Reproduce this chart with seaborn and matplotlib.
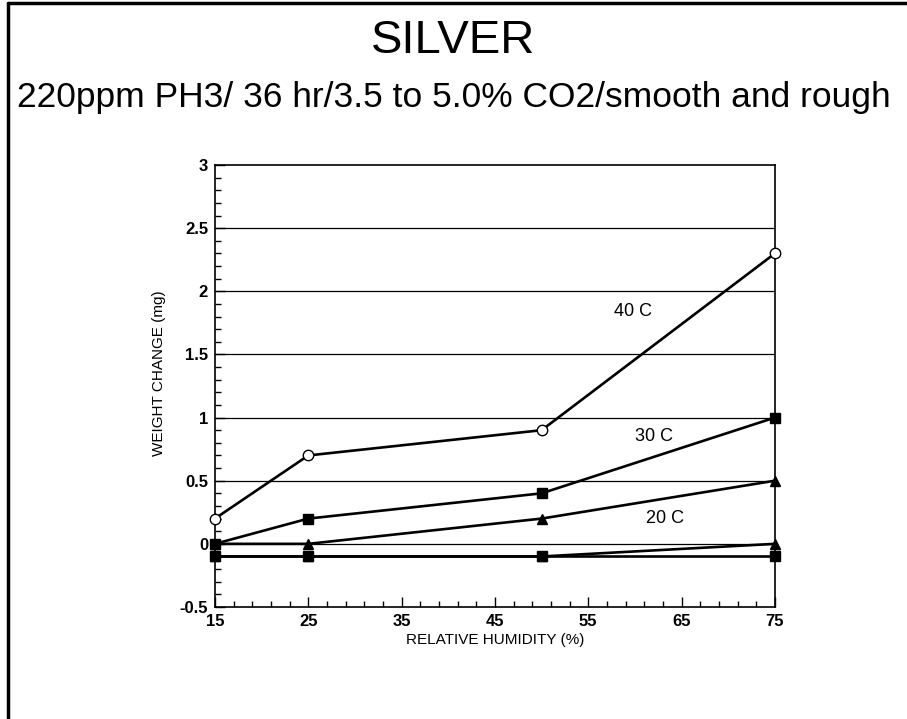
import matplotlib
matplotlib.use("Agg")
import matplotlib.pyplot as plt
import seaborn as sns
import pandas as pd
import numpy as np
from matplotlib.lines import Line2D

humidity = [15, 25, 50, 75]
c40 = [0.2, 0.7, 0.9, 2.3]
c30 = [0.0, 0.2, 0.4, 1.0]
c20 = [0.0, 0.0, 0.2, 0.5]
ctrl_tri = [-0.1, -0.1, -0.1, 0.0]
ctrl_sq = [-0.1, -0.1, -0.1, -0.1]

series_names = ["40 C", "30 C", "20 C", "ctrl_tri", "ctrl_sq"]
series_vals = [c40, c30, c20, ctrl_tri, ctrl_sq]
label_text = ["40 C", "30 C", "20 C"]
label_x = [59.8, 62.0, 63.2]
label_y = [1.84, 0.85, 0.20]
x_ticks = [15, 25, 35, 45, 55, 65, 75]
y_ticks = [-0.5, 0, 0.5, 1, 1.5, 2, 2.5, 3]
y_tick_labels = ["-0.5", "0", "0.5", "1", "1.5", "2", "2.5", "3"]

rows = []
for n, vals in zip(series_names, series_vals):
    for h, v in zip(humidity, vals):
        rows.append({"series": n, "rh": h, "wc": v})
df = pd.DataFrame(rows)

sns.set_style("white")
plt.rcParams['font.family'] = ['Liberation Sans', 'DejaVu Sans']
for k in ["text.color", "axes.labelcolor", "xtick.color", "ytick.color"]:
    plt.rcParams[k] = "black"

fig = plt.figure(figsize=(9.07, 7.19), dpi=100)
ax = fig.add_axes([0.2370, 0.1558, 0.6174, 0.6147])

styles = {
    "40 C": dict(marker="o", mfc="white", ms=7.5),
    "30 C": dict(marker="s", mfc="black", ms=6.5),
    "20 C": dict(marker="^", mfc="black", ms=6.5),
    "ctrl_tri": dict(marker="^", mfc="black", ms=6.5),
    "ctrl_sq": dict(marker="s", mfc="black", ms=6.5),
}

for yv in y_ticks[1:-1]:
    ax.axhline(yv, color="black", lw=0.9, zorder=1)

for n in series_names:
    sub = df[df.series == n]
    st = styles[n]
    sns.lineplot(data=sub, x="rh", y="wc", ax=ax, color="black", lw=1.9,
                 marker=st["marker"], markerfacecolor=st["mfc"],
                 markeredgecolor="black", markersize=st["ms"],
                 markeredgewidth=1.0, legend=False, zorder=3, clip_on=False)

for t, x, y in zip(label_text, label_x, label_y):
    ax.text(x, y, t, fontsize=13, ha="center", va="center", zorder=4)

ax.set_xlim(15, 75)
ax.set_ylim(-0.5, 3)
ax.set_xticks(x_ticks)
ax.set_xticks(np.arange(15, 76, 2), minor=True)
ax.set_yticks(y_ticks)
ax.set_yticklabels(y_tick_labels)
ax.set_yticks(np.arange(-0.5, 3.01, 0.1), minor=True)
ax.tick_params(axis="both", which="major", direction="in", length=7, width=1,
               labelsize=12, pad=5, left=True, bottom=True)
ax.tick_params(axis="both", which="minor", direction="in", length=4, width=1,
               left=True, bottom=True)
for lab in ax.get_xticklabels() + ax.get_yticklabels():
    lab.set_fontweight("bold")

for s in ax.spines.values():
    s.set_visible(True)
    s.set_color("black")
    s.set_linewidth(1.2)

ax.set_xlabel("RELATIVE HUMIDITY (%)", fontsize=11)
ax.set_ylabel("WEIGHT CHANGE (mg)", fontsize=11)
ax.xaxis.set_label_coords(0.5, -0.06)
ax.yaxis.set_label_coords(-0.088, 0.53)

fig.text(0.5, 1 - 41/719, "SILVER", fontsize=34, ha="center", va="center")
fig.text(0.5, 1 - 97/719, "220ppm PH3/ 36 hr/3.5 to 5.0% CO2/smooth and rough",
         fontsize=25.5, ha="center", va="center")

fig.add_artist(Line2D([8/907, 8/907], [0, 1 - 3/719], color="black", lw=2.5,
                      transform=fig.transFigure))
fig.add_artist(Line2D([8/907, 1], [1 - 3/719, 1 - 3/719], color="black", lw=2.5,
                      transform=fig.transFigure))

fig.savefig("out.png", dpi=100, facecolor="white")
